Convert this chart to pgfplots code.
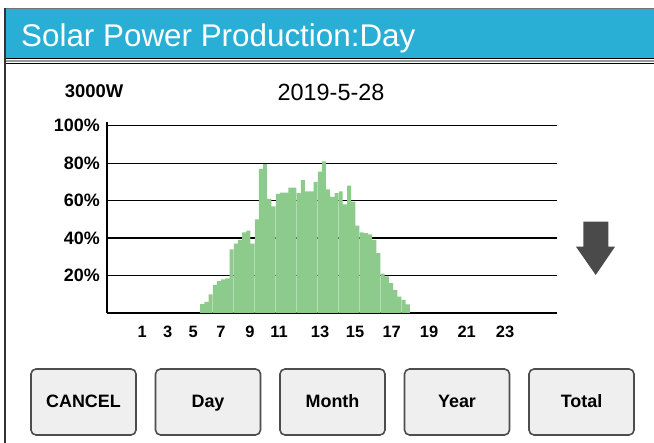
\documentclass[border=0pt]{standalone}
\usepackage{pgfplots}
\pgfplotsset{compat=1.18}
\usepackage{pgfplotstable}
\usepackage{fontspec}
\setmainfont{Liberation Sans}
\definecolor{headblue}{HTML}{29AFD6}
\definecolor{bargreen}{HTML}{8CCB8C}
\definecolor{btnfill}{HTML}{EFEFEF}
\definecolor{btnedge}{HTML}{4D4D4D}
\definecolor{arrowgray}{HTML}{4A4A4A}

% hour bars, x in screen units, height in percent of 3000W
\pgfplotstableread{
x h
202.1 4.8
206.3 6
210.5 10
214.7 15
218.9 17
223.1 18
227.3 18.5
231.5 34
235.7 37
239.9 39
244.1 43
248.3 44
252.5 37
256.7 50
260.9 77
265.1 79.5
269.3 61
273.5 57
277.7 63.6
281.9 64.3
286.1 64.3
290.3 67
294.5 67
298.7 64
302.9 71
307.1 65
311.3 65
315.5 70
319.7 75.5
323.9 81
328.1 66
332.3 62
336.5 64
340.7 65
344.9 58
349.1 68
353.3 59.5
357.5 46.7
361.7 43
365.9 42.6
370.1 42
374.3 39
378.5 32
382.7 21
386.9 19.5
391.1 16
395.3 12.3
399.5 8.7
403.7 7
407.9 4.6
}\solardata

\begin{document}
\begin{tikzpicture}[x=1bp,y=1bp]
\path[use as bounding box, fill=white] (0,0) rectangle (654,443);

% header bar
\fill[headblue] (5,433.5) rectangle (654,384.5);
\draw[black!55, line width=1.4bp] (4,434.3) -- (654,434.3);
\draw[black, line width=1.2bp] (5,384.2) -- (654,384.2);
\draw[black!40, line width=1.4bp] (5,381.9) -- (654,381.9);
\draw[black, line width=1.2bp] (5,379.7) -- (654,379.7);
\draw[black!80, line width=1.6bp] (5,435) -- (5,0);
\node[anchor=base west, inner sep=0pt, text=white, font=\fontsize{31.5}{36}\selectfont]
  at (21,396.3) {Solar Power Production:Day};

% chart captions
\node[inner sep=0pt, font=\fontsize{18.5}{20}\selectfont\bfseries] at (94,352) {3000W};
\node[inner sep=0pt, font=\fontsize{23.5}{26}\selectfont] at (331,351) {2019-5-28};

\begin{axis}[
  at={(107bp,130bp)}, anchor=south west,
  scale only axis,
  width=450bp, height=191bp,
  xmin=107, xmax=557,
  ymin=0, ymax=102,
  axis x line=bottom, axis y line=left,
  axis line style={-, black, line width=1.3bp},
  major tick length=0pt,
  ytick={20,40,60,80,100},
  yticklabels={20\%,40\%,60\%,80\%,100\%},
  xtick={142.3,167.7,193.3,221,250,279,320,355,391.7,429,466.7,505},
  xticklabels={1,3,5,7,9,11,13,15,17,19,21,23},
  ymajorgrids,
  major grid style={black, line width=1.3bp},
  /pgf/number format/assume math mode=true,
  yticklabel style={font=\fontsize{18}{20}\selectfont\bfseries, anchor=east, inner sep=0pt, xshift=-7bp},
  xticklabel style={font=\fontsize{16.5}{18}\selectfont\bfseries, anchor=north, inner sep=0pt, yshift=-13bp},
  clip=false,
]
\addplot[ybar, bar width=3.9, fill=bargreen, draw=none] table[x=x, y=h] {\solardata};
\end{axis}

% down arrow
\fill[arrowgray] (583.3,221.3) -- (608.3,221.3) -- (608.3,196.3) -- (615,196.3)
  -- (595.7,168) -- (576,196.3) -- (583.3,196.3) -- cycle;

% buttons
\foreach \xa/\lab in {31/CANCEL,155.5/Day,280/Month,404.5/Year,529/Total}{
  \draw[btnedge, fill=btnfill, line width=1.6bp, rounded corners=5bp]
    (\xa,8) rectangle ++(105,66);
  \node[anchor=base, inner sep=0pt, font=\fontsize{18}{20}\selectfont\bfseries]
    at (\xa+52.5,35.5) {\lab};
}
\end{tikzpicture}
\end{document}
